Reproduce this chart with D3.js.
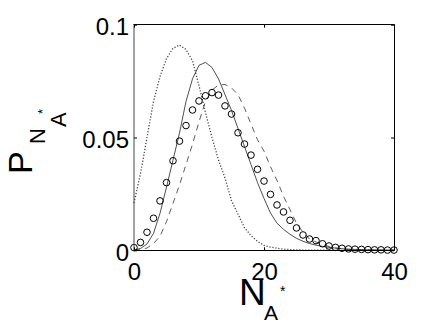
<!DOCTYPE html>
<html><head><meta charset="utf-8">
<script src="https://cdn.jsdelivr.net/npm/d3@7/dist/d3.min.js"></script>
<style>html,body{margin:0;padding:0;background:#fff;}svg{display:block;font-family:"Liberation Sans",Arial,sans-serif;}</style>
</head><body>
<svg id="c" width="436" height="327"></svg>
<script>
const nValues = d3.range(0, 41);
const xTicks = [0, 20, 40];
const xTickLabels = ["0", "20", "40"];
const yTicks = [0, 0.05, 0.1];
const yTickLabels = ["0", "0.05", "0.1"];
const circleSeries = [0.0012,0.0035,0.008,0.0142,0.0219,0.030,0.0397,0.0484,0.0553,0.0622,0.0662,0.0685,0.0699,0.0688,0.064,0.0604,0.0521,0.0471,0.0422,0.0359,0.0307,0.0248,0.0201,0.017,0.0133,0.0099,0.0068,0.005,0.0043,0.0029,0.0019,0.0013,0.0009,0.0006,0.0005,0.0004,0.0003,0.0002,0.0002,0.0001,0.0001];
const solidSeries = [0.0002,0.0008,0.0028,0.0075,0.0164,0.028,0.040,0.052,0.066,0.076,0.082,0.0833,0.081,0.076,0.069,0.062,0.054,0.046,0.038,0.030,0.023,0.0165,0.012,0.0093,0.0071,0.0053,0.004,0.003,0.0023,0.0017,0.0013,0.001,0.0007,0.0005,0.0004,0.0003,0.0002,0.0002,0.0001,0.0001,0.0001];
const dashedSeries = [0,0.0003,0.001,0.003,0.0062,0.0127,0.0208,0.029,0.038,0.047,0.057,0.066,0.071,0.0733,0.0735,0.072,0.069,0.063,0.056,0.049,0.044,0.037,0.031,0.024,0.018,0.012,0.008,0.005,0.0037,0.0025,0.0017,0.001,0.0007,0.0004,0.0003,0.0002,0.0001,0.0001,0.0001,0.0001,0.0001];
const dottedSeries = [0.021,0.034,0.050,0.066,0.077,0.085,0.0895,0.091,0.089,0.084,0.073,0.061,0.050,0.040,0.032,0.022,0.016,0.010,0.0065,0.004,0.0022,0.0014,0.0009,0.0005,0.0003,0.0002,0.0001,0.0001,0.0001,0.0001,0,0,0,0,0,0,0,0,0,0,0];

const svg = d3.select("#c");
const L = 134, R = 394, T = 24.7, B = 250.3;
const x = d3.scaleLinear().domain([0, 40]).range([L, R]);
const y = d3.scaleLinear().domain([0, 0.1]).range([B, T]);

const line = d3.line().x((d, i) => x(nValues[i])).y(d => y(d));

svg.append("path").datum(dottedSeries).attr("d", line)
  .attr("fill", "none").attr("stroke", "#444").attr("stroke-width", 1.3).attr("stroke-dasharray", "1.2,1.8");
svg.append("path").datum(dashedSeries).attr("d", line)
  .attr("fill", "none").attr("stroke", "#333").attr("stroke-width", 0.8).attr("stroke-dasharray", "6,5");
svg.append("path").datum(solidSeries).attr("d", line)
  .attr("fill", "none").attr("stroke", "#222").attr("stroke-width", 0.8);
svg.append("g").selectAll("circle").data(circleSeries).join("circle")
  .attr("cx", (d, i) => x(nValues[i])).attr("cy", d => y(d)).attr("r", 3.3)
  .attr("fill", "none").attr("stroke", "#000").attr("stroke-width", 1);

// frame
const fr = svg.append("g").attr("stroke-width", 1).attr("fill", "none");
fr.append("line").attr("x1", L - 0.5).attr("x2", R + 0.5).attr("y1", 24.5).attr("y2", 24.5).attr("stroke", "#000");
fr.append("line").attr("x1", L - 0.5).attr("x2", R + 0.5).attr("y1", 250.5).attr("y2", 250.5).attr("stroke", "#000");
fr.append("line").attr("x1", 134).attr("x2", 134).attr("y1", 24.5).attr("y2", 250.5).attr("stroke", "#444");
fr.append("line").attr("x1", 394.5).attr("x2", 394.5).attr("y1", 24.5).attr("y2", 250.5).attr("stroke", "#000");

// axes via d3
const xAxisB = d3.axisBottom(x).tickValues(xTicks).tickFormat((d, i) => xTickLabels[i]).tickSizeInner(-3).tickSizeOuter(0).tickPadding(10);
const gx = svg.append("g").attr("transform", `translate(0,${B})`).call(xAxisB);
gx.select(".domain").remove();
gx.selectAll("line").attr("stroke", "#000");
gx.selectAll("text").attr("font-size", 24).attr("fill", "#000").attr("dy", null).attr("y", 29.5);

const xAxisT = d3.axisTop(x).tickValues(xTicks).tickFormat("").tickSizeInner(-3).tickSizeOuter(0);
const gxt = svg.append("g").attr("transform", `translate(0,${T})`).call(xAxisT);
gxt.select(".domain").remove();

const yAxisL = d3.axisLeft(y).tickValues(yTicks).tickFormat((d, i) => yTickLabels[i]).tickSizeInner(-3).tickSizeOuter(0);
const gy = svg.append("g").attr("transform", `translate(${L},0)`).call(yAxisL);
gy.select(".domain").remove();
gy.selectAll("text").attr("font-size", 24).attr("fill", "#000").attr("x", -5).attr("dy", "0.42em");

const yAxisR = d3.axisRight(y).tickValues(yTicks).tickFormat("").tickSizeInner(-3).tickSizeOuter(0);
const gyr = svg.append("g").attr("transform", `translate(${R},0)`).call(yAxisR);
gyr.select(".domain").remove();

svg.selectAll(".tick text").attr("font-family", "'Liberation Sans', Arial, sans-serif");

// x label N_{A*}
const xl = svg.append("g").attr("fill", "#000");
xl.append("text").attr("x", 239).attr("y", 305).attr("font-size", 37).text("N");
xl.append("text").attr("x", 264).attr("y", 320).attr("font-size", 21).text("A");
xl.append("text").attr("x", 280).attr("y", 296).attr("font-size", 14).text("*");

// y label P_{N_{A*}}
const yl = svg.append("g").attr("fill", "#000").attr("transform", "translate(32,174) rotate(-90)");
yl.append("text").attr("x", 0).attr("y", 0).attr("font-size", 34).text("P");
yl.append("text").attr("x", 30).attr("y", 13).attr("font-size", 22).text("N");
yl.append("text").attr("x", 47).attr("y", 34).attr("font-size", 22).text("A");
yl.append("text").attr("x", 60).attr("y", 15).attr("font-size", 13).text("*");
</script>
</body></html>
